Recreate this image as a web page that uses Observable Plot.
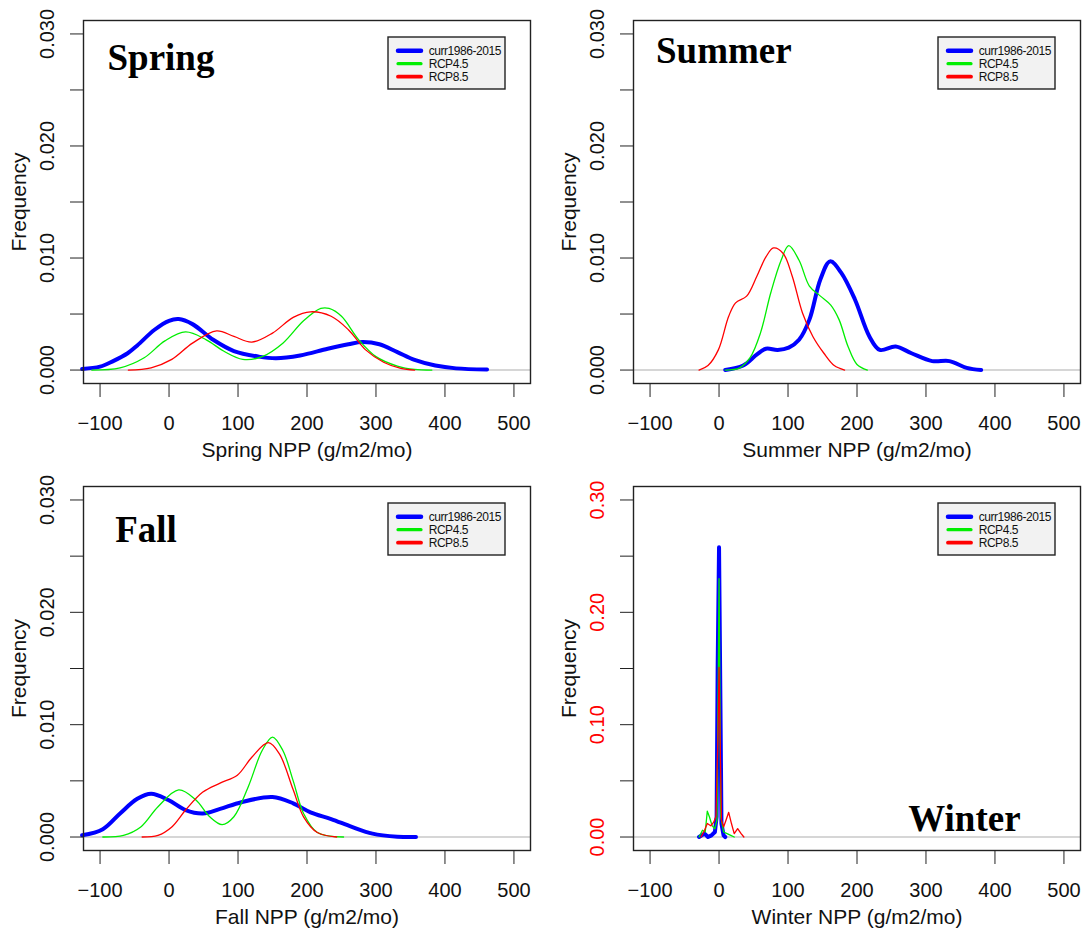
<!DOCTYPE html>
<html><head><meta charset="utf-8">
<script src="https://cdn.jsdelivr.net/npm/d3@7"></script>
<script src="https://cdn.jsdelivr.net/npm/@observablehq/plot@0.6"></script>
<style>
html,body{margin:0;padding:0;background:#fff;}
#chart{position:relative;width:1087px;height:932px;overflow:hidden;background:#fff;}
#chart svg{position:absolute;overflow:visible;}
</style></head><body><div id="chart"></div>
<script>
// ---- series / ticks ----
const seriesNames = ["curr1986-2015", "RCP4.5", "RCP8.5"];
const seriesColors = ["#0000ff", "#00ee00", "#ff0000"];
const xTicks = [-100, 0, 100, 200, 300, 400, 500];
const yTicksSmall = [0, 0.005, 0.01, 0.015, 0.02, 0.025, 0.03];
const yLabelsSmall = [0, 0.01, 0.02, 0.03];
const yTicksWinter = [0, 0.05, 0.1, 0.15, 0.2, 0.25, 0.3];
const yLabelsWinter = [0, 0.1, 0.2, 0.3];
const seasonTitles = ["Spring", "Summer", "Fall", "Winter"];
const xTitles = ["Spring NPP (g/m2/mo)", "Summer NPP (g/m2/mo)", "Fall NPP (g/m2/mo)", "Winter NPP (g/m2/mo)"];

// ---- Spring densities ----
const springCurrX = [-126, -100, -81, -60, -46, -21, 0, 14, 34, 64, 94, 130, 155, 190, 230, 260, 280, 305, 331, 356, 386, 416, 461];
const springCurrY = [0.0001, 0.0003, 0.0008, 0.0015, 0.0022, 0.0036, 0.0044, 0.00455, 0.0041, 0.0027, 0.0017, 0.0012, 0.00105, 0.0013, 0.0019, 0.0023, 0.0025, 0.0023, 0.0016, 0.0009, 0.0004, 0.00015, 0.00005];
const rcp45SpringX = [-112, -71, -36, -6, 24, 54, 79, 107, 135, 165, 195, 220, 232, 250, 275, 300, 331, 356, 381];
const rcp45SpringY = [0, 0.0002, 0.0011, 0.0026, 0.0034, 0.0027, 0.0017, 0.00095, 0.0012, 0.0024, 0.0044, 0.0055, 0.0055, 0.0048, 0.0027, 0.0012, 0.00036, 0.00006, 0];
const rcp85SpringX = [-59, -26, 4, 34, 69, 94, 120, 150, 180, 205, 235, 260, 285, 311, 336, 356];
const rcp85SpringY = [0, 0.0002, 0.00095, 0.0024, 0.0035, 0.003, 0.0025, 0.0033, 0.0047, 0.0052, 0.0048, 0.0036, 0.0018, 0.0007, 0.00015, 0];

// ---- Summer densities ----
const summerCurrX = [9, 35, 55, 68, 85, 101, 116, 131, 147, 161, 177, 197, 218, 233, 256, 279, 309, 334, 359, 380];
const summerCurrY = [0, 0.0004, 0.0014, 0.0019, 0.0018, 0.002, 0.0027, 0.0045, 0.0081, 0.0097, 0.0087, 0.0063, 0.003, 0.0018, 0.0021, 0.0015, 0.0008, 0.0008, 0.0002, 0];
const rcp45SummerX = [9, 30, 45, 60, 75, 90, 101, 116, 131, 147, 162, 174, 187, 200, 215];
const rcp45SummerY = [0, 0.0002, 0.0011, 0.0033, 0.0069, 0.0098, 0.0111, 0.0098, 0.0075, 0.0066, 0.0058, 0.0045, 0.0021, 0.0005, 0];
const rcp85SummerX = [-29, -16, -1, 14, 24, 40, 55, 68, 79, 93, 106, 121, 136, 152, 167, 182];
const rcp85SummerY = [0, 0.0004, 0.0018, 0.0048, 0.006, 0.0066, 0.0084, 0.0101, 0.0109, 0.0104, 0.0084, 0.0051, 0.003, 0.0015, 0.0004, 0];

// ---- Fall densities ----
const fallCurrX = [-126, -96, -71, -46, -26, -1, 24, 49, 74, 105, 150, 180, 205, 235, 265, 295, 331, 358];
const fallCurrY = [0.00015, 0.0007, 0.0021, 0.0034, 0.00386, 0.0033, 0.0024, 0.0021, 0.0025, 0.0031, 0.00356, 0.003, 0.0022, 0.0016, 0.0009, 0.0003, 0.00003, 0];
const rcp45FallX = [-96, -66, -41, -16, 14, 39, 59, 77, 94, 115, 135, 150, 165, 180, 195, 215, 253];
const rcp45FallY = [0, 0.00015, 0.0009, 0.0027, 0.0042, 0.0033, 0.0018, 0.0011, 0.0018, 0.0045, 0.0077, 0.0089, 0.0077, 0.005, 0.0021, 0.0004, 0];
const rcp85FallX = [-39, -16, 4, 24, 49, 74, 99, 120, 144, 160, 180, 195, 215, 243];
const rcp85FallY = [0, 0.00015, 0.0009, 0.0024, 0.004, 0.0048, 0.0055, 0.0071, 0.0084, 0.0074, 0.0042, 0.0018, 0.0004, 0];

// ---- Winter densities ----
const winterCurrX = [-29, -21, -16, -11, -6, -3.5, -2, 0, 2, 3.5, 6.6, 9];
const winterCurrY = [0, 0.003, 0, 0.0015, 0.0045, 0.018, 0.15, 0.258, 0.12, 0.012, 0.0015, 0];
const rcp45WinterX = [-29, -24, -20, -17, -14, -10, -6, -3, -1, 0, 1, 2.5, 6.6, 11.7, 17, 22];
const rcp45WinterY = [0, 0.006, 0.0045, 0.023, 0.018, 0.01, 0.0074, 0.015, 0.15, 0.23, 0.15, 0.018, 0.0045, 0.003, 0.0015, 0];
const rcp85WinterX = [-26, -21, -17, -12, -8, -4.5, -1.5, 0, 1.5, 3.5, 6.6, 10.7, 14, 18, 22, 27, 32, 36];
const rcp85WinterY = [0, 0.006, 0.012, 0.010, 0.013, 0.018, 0.09, 0.151, 0.09, 0.015, 0.009, 0.016, 0.022, 0.012, 0.003, 0.0075, 0.003, 0];

const seriesWidths = [4, 1.3, 1.3];
const legendWidths = [4.5, 3.2, 3.8];
const SANS = "'Liberation Sans', Arial, Helvetica, sans-serif";
const SERIF = "'Liberation Serif', 'Times New Roman', serif";
const fmtX = d => d < 0 ? "\u2212" + Math.abs(d) : String(d);

function rows(xs, ys) { return xs.map((x, j) => ({x, y: ys[j]})); }

function panel(cfg) {
  const {series, title, titleDx, titleDy, xLabel, yDomain, yTicks, yLabels, yFmt, yLabelColor,
         width, marginRight, marginBottom, curve, left, top} = cfg;
  const svg = Plot.plot({
    width, height: 466, marginLeft: 83, marginRight, marginTop: 20, marginBottom,
    style: {fontFamily: SANS, background: "transparent", color: "#111"},
    x: {domain: [-124, 524]},
    y: {domain: yDomain},
    marks: [
      Plot.ruleY([0], {stroke: "#c8c8c8", strokeWidth: 1.6}),
      ...series.map((s, i) => Plot.line(rows(s[0], s[1]), {
        x: "x", y: "y", stroke: seriesColors[i], strokeWidth: seriesWidths[i],
        curve, strokeLinejoin: "round", strokeLinecap: "round"
      })),
      Plot.frame({stroke: "#222", strokeWidth: 1.4}),
      Plot.axisX({ticks: xTicks, tickSize: 14, tickPadding: 18, tickFormat: fmtX,
                  fontSize: 20, label: null, stroke: "#222", fill: "#111"}),
      Plot.axisY({ticks: yTicks, tickSize: 13, fill: "none", label: null, stroke: "#222"}),
      Plot.text(yLabels, {y: d => d, text: d => yFmt(d), frameAnchor: "left", textAnchor: "middle",
                          lineAnchor: "middle", rotate: -90, dx: -36, fontSize: 20, fill: yLabelColor}),
      Plot.text(["Frequency"], {text: d => d, frameAnchor: "left", textAnchor: "middle",
                                lineAnchor: "middle", rotate: -90, dx: -64, fontSize: 21, fill: "#111"}),
      Plot.text([xLabel], {text: d => d, frameAnchor: "bottom", textAnchor: "middle", lineAnchor: "top", dy: 59,
                           fontSize: 21, fill: "#111"}),
      Plot.text([title], {text: d => d, frameAnchor: "top-left", textAnchor: "start", lineAnchor: "top",
                          dx: titleDx, dy: titleDy, fontSize: 37, fontWeight: "bold",
                          fontFamily: SERIF, fill: "#000"})
    ]
  });
  svg.style.left = left + "px";
  svg.style.top = top + "px";
  // legend
  const g = d3.select(svg).append("g").attr("transform", `translate(${83 + 305},${20 + 17})`);
  g.append("rect").attr("width", 117).attr("height", 52).attr("fill", "#f2f2f2")
    .attr("stroke", "#222").attr("stroke-width", 1.4);
  seriesNames.forEach((n, i) => {
    const y = 13.7 + i * 13;
    g.append("line").attr("x1", 10).attr("x2", 33).attr("y1", y).attr("y2", y)
      .attr("stroke", seriesColors[i]).attr("stroke-width", legendWidths[i]).attr("stroke-linecap", "round");
    g.append("text").attr("x", 40.7).attr("y", y).attr("dy", "0.36em").attr("font-size", 12)
      .attr("text-anchor", "start").attr("letter-spacing", "-0.45px")
      .attr("font-family", "'Liberation Sans Narrow','Arial Narrow','Liberation Sans',Arial,sans-serif")
      .attr("fill", "#111").text(n);
  });
  document.getElementById("chart").appendChild(svg);
}

const f3 = d3.format(".3f"), f2 = d3.format(".2f");
const smallDomain = [-0.0012, 0.0312];

panel({series: [[springCurrX, springCurrY], [rcp45SpringX, rcp45SpringY], [rcp85SpringX, rcp85SpringY]],
  title: seasonTitles[0], titleDx: 24, titleDy: 23, xLabel: xTitles[0], yDomain: smallDomain,
  yTicks: yTicksSmall, yLabels: yLabelsSmall, yFmt: f3, yLabelColor: "#111",
  width: 544, marginRight: 14, marginBottom: 83, curve: "catmull-rom", left: 0, top: 0});
panel({series: [[summerCurrX, summerCurrY], [rcp45SummerX, rcp45SummerY], [rcp85SummerX, rcp85SummerY]],
  title: seasonTitles[1], titleDx: 22.5, titleDy: 16.5, xLabel: xTitles[1], yDomain: smallDomain,
  yTicks: yTicksSmall, yLabels: yLabelsSmall, yFmt: f3, yLabelColor: "#111",
  width: 537, marginRight: 7, marginBottom: 83, curve: "catmull-rom", left: 550, top: 0});
panel({series: [[fallCurrX, fallCurrY], [rcp45FallX, rcp45FallY], [rcp85FallX, rcp85FallY]],
  title: seasonTitles[2], titleDx: 31.7, titleDy: 29, xLabel: xTitles[2], yDomain: smallDomain,
  yTicks: yTicksSmall, yLabels: yLabelsSmall, yFmt: f3, yLabelColor: "#111",
  width: 544, marginRight: 14, marginBottom: 82, curve: "catmull-rom", left: 0, top: 466});
panel({series: [[winterCurrX, winterCurrY], [rcp45WinterX, rcp45WinterY], [rcp85WinterX, rcp85WinterY]],
  title: seasonTitles[3], titleDx: 274.7, titleDy: 318, xLabel: xTitles[3], yDomain: [-0.012, 0.312],
  yTicks: yTicksWinter, yLabels: yLabelsWinter, yFmt: f2, yLabelColor: "#ff0000",
  width: 537, marginRight: 7, marginBottom: 82, curve: "linear", left: 550, top: 466});
</script></body></html>
